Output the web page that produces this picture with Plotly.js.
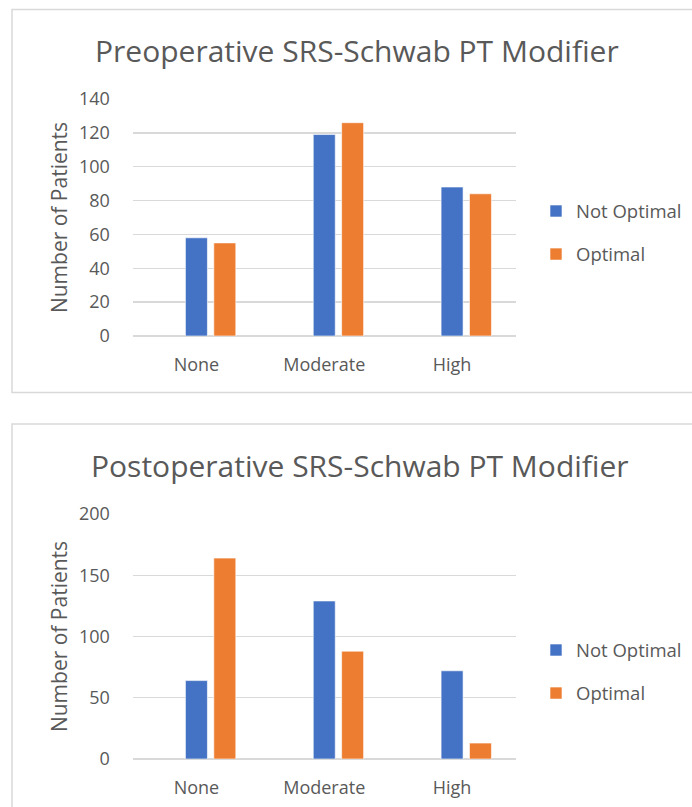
<!DOCTYPE html>
<html>
<head>
<meta charset="utf-8">
<script src="https://cdn.plot.ly/plotly-3.0.1.min.js"></script>
<style>html,body{margin:0;padding:0;background:#fff;}#chart{width:692px;height:807px;}</style>
</head>
<body>
<div id="chart"></div>
<script>
const categories = ["None", "Moderate", "High"];
const preNotOptimal = [58, 119, 88];
const preOptimal = [55, 126, 84];
const postNotOptimal = [64, 129, 72];
const postOptimal = [164, 88, 13];
const preTitle = "Preoperative SRS-Schwab PT Modifier";
const postTitle = "Postoperative SRS-Schwab PT Modifier";
const yTitle = "Number of Patients";
const seriesNames = ["Not Optimal", "Optimal"];

const W = 692, H = 807;
const px = v => v / W;
const py = v => 1 - v / H;
const BLUE = "#4472C4", ORANGE = "#ED7D31", GRAY = "#595959", GRID = "#d9d9d9";
const FONT = "Open Sans";
// bar geometry in category units (one category = 1)
const BAR_W = 0.172;
const SLOT = 0.222;

function bar(name, y, color, xa, ya, legend, group, slotIndex) {
  return {
    type: "bar", name: name, x: categories, y: y,
    xaxis: xa, yaxis: ya, legend: legend, legendgroup: group,
    width: BAR_W, offset: -BAR_W / 2 + slotIndex * SLOT,
    marker: {color: color, line: {color: "rgba(255,255,255,0.6)", width: 1}},
    hoverinfo: "skip"
  };
}

const data = [
  bar(seriesNames[0], preNotOptimal, BLUE, "x", "y", "legend", "a", 0),
  bar(seriesNames[1], preOptimal, ORANGE, "x", "y", "legend", "b", 1),
  bar(seriesNames[0], postNotOptimal, BLUE, "x2", "y2", "legend2", "c", 0),
  bar(seriesNames[1], postOptimal, ORANGE, "x2", "y2", "legend2", "d", 1)
];

const tickFont = {family: FONT, size: 18, color: GRAY};
function xaxis(anchor) {
  return {
    anchor: anchor, domain: [px(132.5), px(516)], range: [-0.5, 2.5],
    showgrid: false, showline: false,
    zeroline: false, ticks: "outside", ticklen: 12, tickcolor: "rgba(0,0,0,0)",
    tickfont: tickFont, fixedrange: true
  };
}
function yaxis(anchor, domain, range, dtick) {
  return {
    anchor: anchor, domain: domain, range: range, dtick: dtick,
    showgrid: true, gridcolor: GRID, gridwidth: 1.3, zeroline: true, zerolinecolor: GRID, zerolinewidth: 1.3,
    showline: false, ticks: "outside", ticklen: 18, tickcolor: "rgba(0,0,0,0)",
    tickfont: tickFont, fixedrange: true,
    title: {text: yTitle, font: {family: FONT, size: 21, color: GRAY}, standoff: 5}
  };
}
function legend(yc) {
  return {
    x: px(536), xanchor: "left", y: yc, yanchor: "middle",
    font: {family: FONT, size: 18.5, color: GRAY},
    traceorder: "grouped", tracegroupgap: 16, bgcolor: "rgba(0,0,0,0)"
  };
}

const layout = {
  width: W, height: H,
  margin: {l: 0, r: 0, t: 0, b: 0},
  paper_bgcolor: "#fff", plot_bgcolor: "#fff",
  barmode: "group",
  showlegend: true,
  xaxis: xaxis("y"),
  yaxis: yaxis("x", [py(336), py(99)], [0, 140], 20),
  xaxis2: xaxis("y2"),
  yaxis2: yaxis("x2", [py(759), py(514)], [0, 200], 50),
  legend: legend(py(233)),
  legend2: legend(py(672)),
  annotations: [
    {text: preTitle, xref: "paper", yref: "paper", x: px(357), y: py(50), xanchor: "center", yanchor: "middle",
     showarrow: false, font: {family: FONT, size: 30, color: GRAY}},
    {text: postTitle, xref: "paper", yref: "paper", x: px(360), y: py(465), xanchor: "center", yanchor: "middle",
     showarrow: false, font: {family: FONT, size: 30, color: GRAY}}
  ],
  shapes: [
    {type: "rect", xref: "paper", yref: "paper", x0: px(12), x1: 1.05, y0: py(392.5), y1: py(9.5),
     line: {color: GRID, width: 1.5}, layer: "below"},
    {type: "rect", xref: "paper", yref: "paper", x0: px(12), x1: 1.05, y0: -0.05, y1: py(424),
     line: {color: GRID, width: 1.5}, layer: "below"}
  ]
};

Plotly.newPlot("chart", data, layout, {displayModeBar: false, staticPlot: true});
</script>
</body>
</html>
